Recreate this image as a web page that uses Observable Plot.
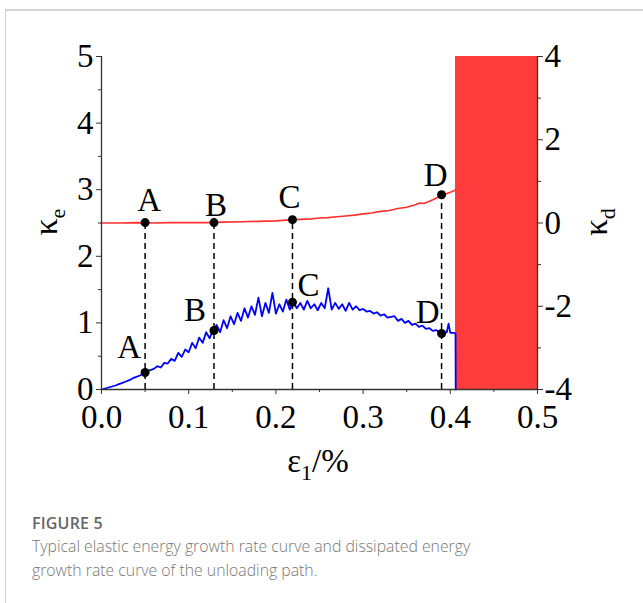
<!DOCTYPE html>
<html>
<head>
<meta charset="utf-8">
<script src="https://cdn.jsdelivr.net/npm/d3@7"></script>
<script src="https://cdn.jsdelivr.net/npm/@observablehq/plot@0.6"></script>
<style>
  html, body { margin: 0; padding: 0; background: #fff; }
  #wrap { position: relative; width: 643px; height: 603px; overflow: hidden; }
  #topline { position: absolute; left: 5px; top: 9px; width: 640px; height: 2px; background: #d4d4d4; }
  #leftline { position: absolute; left: 5px; top: 10px; width: 1px; height: 593px; background: #cfcfcf; }
  #chart { position: absolute; left: 0; top: 0; }
  #caption { position: absolute; left: 32px; top: 512px; width: 600px; font-family: "Open Sans", sans-serif; color: #777; }
  #caption .fig { font-weight: 600; font-size: 16px; color: #666; letter-spacing: 0.2px; line-height: 22px; }
  #caption .txt { font-size: 15.8px; line-height: 24px; font-weight: 300; }
</style>
</head>
<body>
<div id="wrap">
  <div id="topline"></div>
  <div id="leftline"></div>
  <div id="chart"></div>
  <div id="caption">
    <div class="fig">FIGURE 5</div>
    <div class="txt">Typical elastic energy growth rate curve and dissipated energy<br>growth rate curve of the unloading path.</div>
  </div>
</div>
<script>
// ---- data ----
// elastic energy growth rate κe (left axis)
const blueX = [0.000,0.004,0.008,0.012,0.016,0.020,0.024,0.028,0.032,0.036,0.040,0.044,0.048,0.052,0.056,0.060,0.064,0.068,0.072,0.076,0.080,0.084,0.088,0.092,0.096,0.100,0.104,0.108,0.112,0.116,0.120,0.124,0.128,0.132,0.136,0.140,0.144,0.148,0.152,0.156,0.160,0.164,0.168,0.172,0.176,0.180,0.184,0.188,0.192,0.196,0.200,0.204,0.208,0.212,0.216,0.220,0.224,0.228,0.232,0.236,0.240,0.244,0.248,0.252,0.256,0.260,0.264,0.268,0.272,0.276,0.280,0.284,0.288,0.292,0.296,0.300,0.304,0.308,0.312,0.316,0.320,0.324,0.328,0.332,0.336,0.340,0.344,0.348,0.352,0.356,0.360,0.364,0.368,0.372,0.376,0.380,0.384,0.388,0.392,0.396,0.398,0.400,0.404,0.406,0.4062];
const blueY = [0.00,0.015,0.03,0.045,0.06,0.08,0.10,0.12,0.14,0.17,0.19,0.21,0.24,0.27,0.29,0.31,0.35,0.33,0.40,0.39,0.46,0.43,0.55,0.49,0.60,0.56,0.70,0.62,0.78,0.70,0.86,0.77,0.89,0.97,0.86,1.04,0.92,1.10,0.98,1.15,1.03,1.22,1.08,1.25,1.12,1.38,1.10,1.30,1.15,1.45,1.14,1.28,1.17,1.35,1.20,1.31,1.22,1.30,1.20,1.33,1.22,1.28,1.19,1.30,1.22,1.52,1.20,1.30,1.21,1.28,1.18,1.30,1.20,1.25,1.19,1.21,1.17,1.18,1.14,1.16,1.11,1.13,1.08,1.09,1.10,1.03,1.06,1.00,1.03,0.97,0.99,0.94,0.96,0.91,0.92,0.88,0.89,0.86,0.85,0.86,0.99,0.85,0.85,0.84,0.00];
// dissipated energy growth rate κd (right axis)
const redX = [0.000,0.020,0.040,0.060,0.080,0.100,0.120,0.140,0.160,0.180,0.200,0.220,0.240,0.250,0.260,0.270,0.280,0.290,0.300,0.310,0.320,0.330,0.340,0.350,0.360,0.365,0.370,0.380,0.390,0.400,0.405,0.406];
const redY = [0.00,0.00,0.01,0.00,0.01,0.01,0.01,0.02,0.03,0.04,0.05,0.08,0.10,0.12,0.13,0.15,0.17,0.19,0.22,0.24,0.28,0.30,0.35,0.38,0.44,0.48,0.47,0.56,0.66,0.74,0.78,0.80];
// dissipated-energy burst region after the peak (spans the full κd range)
const burstX = [0.406, 0.5];
const burstKd = [-4, 4];
// characteristic points
const ptLabels = ["A", "B", "C", "D"];
const ptX = [0.050, 0.129, 0.219, 0.390];
const ptKe = [0.255, 0.886, 1.31, 0.84];
const ptKd = [0.01, 0.01, 0.08, 0.68];
// axis ticks
const xTicks = [0, 0.1, 0.2, 0.3, 0.4, 0.5];
const xMinor = [0.05, 0.15, 0.25, 0.35, 0.45];
const keTicks = [0, 1, 2, 3, 4, 5];
const keMinor = [0.5, 1.5, 2.5, 3.5, 4.5];
const kdTicks = [-4, -2, 0, 2, 4];
const kdMinor = [-3, -1, 1, 3];

// map κd (-4..4) onto κe scale (0..5)
const kd2y = kd => 2.5 + kd * 5 / 8;
const y2kd = y => Math.round((y - 2.5) * 8 / 5);

const blue = blueX.map((x, i) => ({x, y: blueY[i]}));
const red = redX.map((x, i) => ({x, y: kd2y(redY[i])}));
const pts = ptLabels.map((l, i) => ({l, x: ptX[i], ke: ptKe[i], kd: kd2y(ptKd[i])}));

const FONT = "'Liberation Serif', 'Times New Roman', serif";
const FS = 33;

function lab(i, which, dx, dy) {
  const p = pts[i];
  return Plot.text([p], {x: "x", y: which, text: "l", dx, dy, fontSize: FS, fill: "black", textAnchor: "middle", lineAnchor: "middle", fontFamily: FONT});
}

const plot = Plot.plot({
  width: 643,
  height: 500,
  marginLeft: 101,
  marginRight: 106,
  marginTop: 56,
  marginBottom: 111,
  style: {fontFamily: FONT, background: "transparent", overflow: "visible"},
  x: {domain: [0, 0.5]},
  y: {domain: [0, 5]},
  marks: [
    Plot.rect([0], {x1: burstX[0], x2: burstX[1], y1: kd2y(burstKd[0]), y2: kd2y(burstKd[1]), fill: "#ff3b3b"}),
    Plot.line(red, {x: "x", y: "y", stroke: "#ff3030", strokeWidth: 1.6}),
    Plot.line(blue, {x: "x", y: "y", stroke: "#0000ff", strokeWidth: 1.8}),
    Plot.ruleX(pts, {x: "x", y1: 0, y2: "kd", stroke: "black", strokeWidth: 1.5, strokeDasharray: "6,4"}),
    Plot.dot(pts, {x: "x", y: "ke", r: 4.5, fill: "black"}),
    Plot.dot(pts, {x: "x", y: "kd", r: 4.5, fill: "black"}),
    lab(0, "kd", 4, -22), lab(1, "kd", 2, -17), lab(2, "kd", -3, -22), lab(3, "kd", -6, -19),
    lab(0, "ke", -16, -25), lab(1, "ke", -19, -20), lab(2, "ke", 16, -17), lab(3, "ke", -14, -21),
    // axis lines
    Plot.ruleX([0], {stroke: "#333", strokeWidth: 1.3}),
    Plot.ruleX([0.5], {stroke: "#333", strokeWidth: 1.3}),
    Plot.ruleY([0], {stroke: "#333", strokeWidth: 1.3}),
    // axes
    Plot.axisX({ticks: xTicks, tickSize: 5, tickPadding: 10, tickFormat: d3.format(".1f"), fontSize: FS, label: null, stroke: "#333", fill: "black"}),
    Plot.axisX({ticks: xMinor, tickSize: 3, tickFormat: () => "", label: null, stroke: "#333"}),
    Plot.axisY({ticks: keTicks, tickSize: 5, tickPadding: 3, tickFormat: d => String(d), fontSize: FS, label: null, stroke: "#333", fill: "black"}),
    Plot.axisY({ticks: keMinor, tickSize: 3, tickFormat: () => "", label: null, stroke: "#333"}),
    Plot.axisY({anchor: "right", ticks: kdTicks.map(kd2y), tickSize: 5, tickPadding: 2, tickFormat: y => String(y2kd(y)), fontSize: FS, label: null, stroke: "#333", fill: "black"}),
    Plot.axisY({anchor: "right", ticks: kdMinor.map(kd2y), tickSize: 3, tickFormat: () => "", label: null, stroke: "#333"})
  ]
});

document.getElementById("chart").appendChild(plot);

// axis titles with subscripts
const svg = d3.select(plot);
function title(x, y, rot, main, sub) {
  const t = svg.append("text")
    .attr("transform", `translate(${x},${y}) rotate(${rot})`)
    .attr("text-anchor", "middle")
    .attr("font-family", FONT)
    .attr("font-size", FS)
    .attr("fill", "black");
  t.append("tspan").text(main);
  t.append("tspan").attr("font-size", 22).attr("dy", 8).text(sub);
  return t;
}
title(57, 222, -90, "κ", "e");
title(607, 222, -90, "κ", "d");
const xl = svg.append("text")
  .attr("x", 318).attr("y", 472)
  .attr("text-anchor", "middle")
  .attr("font-family", FONT)
  .attr("font-size", FS)
  .attr("fill", "black");
xl.append("tspan").text("ε");
xl.append("tspan").attr("font-size", 22).attr("dy", 8).text("1");
xl.append("tspan").attr("dy", -8).text("/%");
</script>
</body>
</html>
